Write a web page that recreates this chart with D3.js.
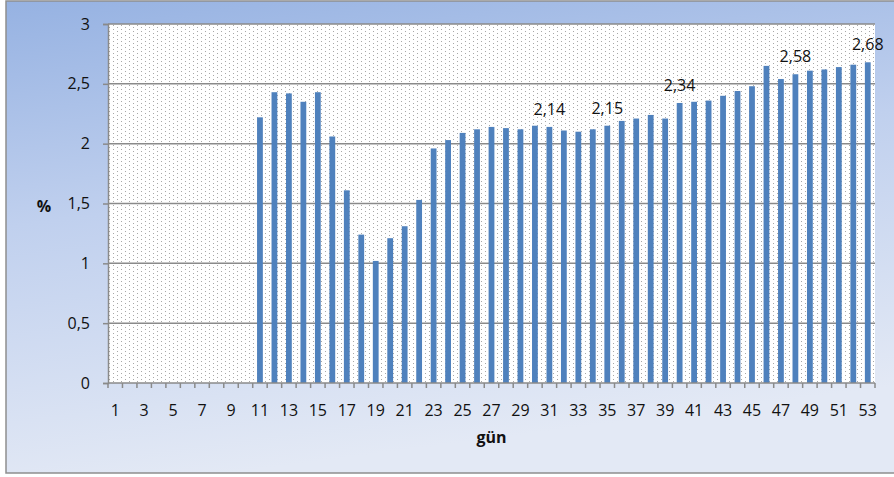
<!DOCTYPE html>
<html>
<head>
<meta charset="utf-8">
<script src="https://cdn.jsdelivr.net/npm/d3@7"></script>
<style>
  html, body { margin: 0; padding: 0; background: #ffffff; }
  svg { display: block; }
  text { font-family: "Open Sans", "Noto Sans", sans-serif; fill: #111111; }
</style>
</head>
<body>
<svg id="chart" width="894" height="477"></svg>
<script>
// Daily percentage values, day 1..53
const days = d3.range(1, 54);
const values = [
  0, 0, 0, 0, 0, 0, 0, 0, 0, 0,
  2.22, 2.43, 2.42, 2.35, 2.43, 2.06, 1.61, 1.24, 1.02, 1.21,
  1.31, 1.53, 1.96, 2.03, 2.09, 2.12, 2.14, 2.13, 2.12, 2.15,
  2.14, 2.11, 2.10, 2.12, 2.15, 2.19, 2.21, 2.24, 2.21, 2.34,
  2.35, 2.36, 2.40, 2.44, 2.48, 2.65, 2.54, 2.58, 2.61, 2.62,
  2.64, 2.66, 2.68
];
const labelledDays = [31, 35, 40, 48, 53];
const yTicks = [0, 0.5, 1, 1.5, 2, 2.5, 3];
const xTickLabels = days.filter(d => d % 2 === 1);
const xTitle = "gün";
const yTitle = "%";

const fmt = v => String(v).replace(".", ",");
const FONT = "16px";

const svg = d3.select("#chart");
const plot = { left: 108, right: 875, top: 24, bottom: 383 };

const defs = svg.append("defs");
const bg = defs.append("linearGradient")
  .attr("id", "bgGrad").attr("x1", "0").attr("y1", "0").attr("x2", "0.25").attr("y2", "1");
bg.append("stop").attr("offset", "0").attr("stop-color", "#96b2e2");
bg.append("stop").attr("offset", "0.45").attr("stop-color", "#c0d0ee");
bg.append("stop").attr("offset", "1").attr("stop-color", "#e3e9f5");

// sparse dotted fill of the plot area
const dots = defs.append("pattern")
  .attr("id", "dots").attr("patternUnits", "userSpaceOnUse")
  .attr("width", 8).attr("height", 4);
dots.append("rect").attr("width", 8).attr("height", 4).attr("fill", "#ffffff");
dots.append("rect").attr("x", 1).attr("y", 1).attr("width", 1).attr("height", 1).attr("fill", "#a8a8a8");
dots.append("rect").attr("x", 5).attr("y", 3).attr("width", 1).attr("height", 1).attr("fill", "#a8a8a8");

// chart background and frame
svg.append("rect")
  .attr("x", 6).attr("y", 1).attr("width", 900).attr("height", 472)
  .attr("fill", "url(#bgGrad)").attr("stroke", "#8e8e8e").attr("stroke-width", 1.5);

// plot area
svg.append("rect")
  .attr("x", plot.left).attr("y", plot.top)
  .attr("width", plot.right - plot.left).attr("height", plot.bottom - plot.top)
  .attr("fill", "url(#dots)");

const x = d3.scaleBand()
  .domain(days)
  .range([plot.left, plot.right])
  .paddingInner(0.6)
  .paddingOuter(0.3);
const step = x.step();

const y = d3.scaleLinear().domain([0, 3]).range([plot.bottom, plot.top]);

// horizontal gridlines
svg.append("g").selectAll("line")
  .data(yTicks.filter(t => t > 0))
  .join("line")
  .attr("x1", plot.left).attr("x2", plot.right)
  .attr("y1", d => y(d)).attr("y2", d => y(d))
  .attr("stroke", "#8a8a8a").attr("stroke-width", 1.5);

// y axis
const yAxis = svg.append("g")
  .attr("transform", `translate(${plot.left},0)`)
  .call(d3.axisLeft(y).tickValues(yTicks).tickFormat(fmt).tickSize(5).tickPadding(13));
yAxis.select(".domain").attr("stroke", "#8a8a8a").attr("stroke-width", 1.5);
yAxis.selectAll(".tick line").attr("stroke", "#8a8a8a").attr("stroke-width", 1.5);
yAxis.selectAll(".tick text")
  .style("font-family", "'Open Sans', 'Noto Sans', sans-serif")
  .style("font-size", FONT).attr("fill", "#111111");

// bars
svg.append("g").selectAll("rect")
  .data(days.map((d, i) => ({ day: d, value: values[i] })).filter(d => d.value > 0))
  .join("rect")
  .attr("x", d => x(d.day))
  .attr("width", x.bandwidth())
  .attr("y", d => y(d.value))
  .attr("height", d => y(0) - y(d.value))
  .attr("fill", "#4f81bd");

// x axis line and category boundary ticks
const xg = svg.append("g");
xg.append("line")
  .attr("x1", plot.left).attr("x2", plot.right)
  .attr("y1", y(0)).attr("y2", y(0))
  .attr("stroke", "#8a8a8a").attr("stroke-width", 1.5);
const boundaries = days.map(d => x(d) + x.bandwidth() / 2 - step / 2)
  .concat([x(days[days.length - 1]) + x.bandwidth() / 2 + step / 2]);
xg.selectAll("line.tick")
  .data(boundaries)
  .join("line").attr("class", "tick")
  .attr("x1", d => d).attr("x2", d => d)
  .attr("y1", y(0)).attr("y2", y(0) + 5)
  .attr("stroke", "#8a8a8a").attr("stroke-width", 1.5);
xg.selectAll("text")
  .data(xTickLabels)
  .join("text")
  .attr("x", d => x(d) + x.bandwidth() / 2)
  .attr("y", 416)
  .attr("text-anchor", "middle")
  .style("font-size", FONT)
  .text(d => d);

// value labels
svg.append("g").selectAll("text")
  .data(labelledDays)
  .join("text")
  .attr("x", d => x(d) + x.bandwidth() / 2)
  .attr("y", d => y(values[d - 1]) - 12)
  .attr("text-anchor", "middle")
  .style("font-size", FONT)
  .text(d => fmt(values[d - 1]));

// axis titles
svg.append("text")
  .attr("x", (plot.left + plot.right) / 2).attr("y", 443)
  .attr("text-anchor", "middle")
  .style("font-size", FONT).style("font-weight", "bold")
  .text(xTitle);
svg.append("text")
  .attr("x", 44).attr("y", 212)
  .attr("text-anchor", "middle")
  .style("font-size", FONT).style("font-weight", "bold")
  .text(yTitle);
</script>
</body>
</html>
